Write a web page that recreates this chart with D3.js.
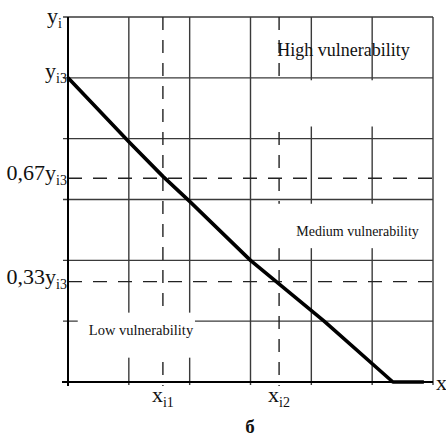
<!DOCTYPE html>
<html>
<head>
<meta charset="utf-8">
<script src="https://cdn.jsdelivr.net/npm/d3@7"></script>
<style>
  html, body { margin: 0; padding: 0; background: #fff; }
  svg { display: block; }
  text { font-family: "Liberation Serif", "Times New Roman", serif; fill: #111; }
</style>
</head>
<body>
<svg id="chart" width="446" height="439"></svg>
<script>
// ---- data ----
const gridTicks = [0, 1, 2, 3, 4, 5, 6];
const curveX = [0, 1, 1.56, 2, 3, 4.21, 5.34, 5.85];
const curveY = [5, 3.95, 3.38, 2.97, 2.0, 1, 0, 0];
const yi3 = 5;
const levelFractions = [0.67, 0.33];
const levelLabels = ["0,67y", "0,33y"];
const xThresholds = [1.56, 3.47];
const xThresholdSubs = ["i1", "i2"];
const zoneLabels = ["High vulnerability", "Medium vulnerability", "Low vulnerability"];
const zoneCenters = [[4.53, 5.36], [4.76, 2.4], [1.2, 0.77]];
const zoneSizes = [18, 14, 14.5];
const zoneBoxes = [[3.29, 6, 4.2, 4.96], [3.35, 6, 2.2, 2.93], [0.16, 2.12, 0.4, 1.14]];

// ---- scales ----
const x = d3.scaleLinear().domain([0, 6]).range([68, 433]);
const y = d3.scaleLinear().domain([0, 6]).range([382, 17]);

const svg = d3.select("#chart");

// grid
svg.append("g").selectAll("line").data(gridTicks.slice(1)).join("line")
  .attr("x1", d => x(d)).attr("x2", d => x(d))
  .attr("y1", y(6)).attr("y2", y(0) + 3)
  .attr("stroke", "#3a3a3a").attr("stroke-width", 1.4);
svg.append("g").selectAll("line").data(gridTicks.slice(1)).join("line")
  .attr("x1", x(0) - 5).attr("x2", x(6))
  .attr("y1", d => y(d)).attr("y2", d => y(d))
  .attr("stroke", "#3a3a3a").attr("stroke-width", 1.4);

// dashed threshold lines
svg.append("g").selectAll("line").data(xThresholds).join("line")
  .attr("x1", d => x(d)).attr("x2", d => x(d))
  .attr("y1", y(6)).attr("y2", y(0) + 4)
  .attr("stroke", "#222").attr("stroke-width", 1.4)
  .attr("stroke-dasharray", "13,10");
svg.append("g").selectAll("line").data(levelFractions).join("line")
  .attr("x1", x(0)).attr("x2", x(6))
  .attr("y1", d => y(d * yi3)).attr("y2", d => y(d * yi3))
  .attr("stroke", "#222").attr("stroke-width", 1.4)
  .attr("stroke-dasharray", "14,11");

// zone label boxes and text
svg.append("g").selectAll("rect").data(zoneBoxes).join("rect")
  .attr("x", d => x(d[0])).attr("width", d => x(d[1]) - x(d[0]) - 2)
  .attr("y", d => y(d[3])).attr("height", d => y(d[2]) - y(d[3]))
  .attr("fill", "#fff");
svg.append("g").selectAll("text").data(zoneLabels).join("text")
  .attr("x", (d, i) => x(zoneCenters[i][0]))
  .attr("y", (d, i) => y(zoneCenters[i][1]))
  .attr("text-anchor", "middle")
  .attr("font-size", (d, i) => zoneSizes[i])
  .text(d => d);

// axes
svg.append("line").attr("x1", x(0)).attr("x2", x(0))
  .attr("y1", y(6)).attr("y2", y(0) + 4)
  .attr("stroke", "#000").attr("stroke-width", 2);
svg.append("line").attr("x1", x(0) - 6).attr("x2", x(6))
  .attr("y1", y(0)).attr("y2", y(0))
  .attr("stroke", "#000").attr("stroke-width", 2);

// main curve
const line = d3.line().x(d => x(d[0])).y(d => y(d[1]));
svg.append("path")
  .datum(curveX.map((v, i) => [v, curveY[i]]))
  .attr("d", line)
  .attr("fill", "none").attr("stroke", "#000")
  .attr("stroke-width", 3.6).attr("stroke-linejoin", "round");

// y labels with subscripts
function subLabel(g, main, sub, px, py, anchor, fs, sfs) {
  const t = g.append("text").attr("x", px).attr("y", py)
    .attr("text-anchor", anchor).attr("font-size", fs);
  t.append("tspan").text(main);
  t.append("tspan").attr("font-size", sfs).attr("dy", 5).text(sub);
  return t;
}
const lab = svg.append("g");
subLabel(lab, "y", "i", 62, y(6) + 6, "end", 22, 14);
subLabel(lab, "y", "i3", 67, y(yi3) + 0, "end", 22, 14);
levelFractions.forEach((f, i) => {
  subLabel(lab, levelLabels[i], "i3", 67, y(f * yi3) + 2, "end", 22, 14);
});
xThresholds.forEach((v, i) => {
  subLabel(lab, "x", xThresholdSubs[i], x(v) - 11, y(0) + 20, "start", 22, 14);
});
lab.append("text").attr("x", 436).attr("y", y(0) + 8)
  .attr("font-size", 22).text("x");
lab.append("text").attr("x", 250).attr("y", 433)
  .attr("text-anchor", "middle").attr("font-size", 19).attr("font-weight", "bold")
  .text("б");
</script>
</body>
</html>
